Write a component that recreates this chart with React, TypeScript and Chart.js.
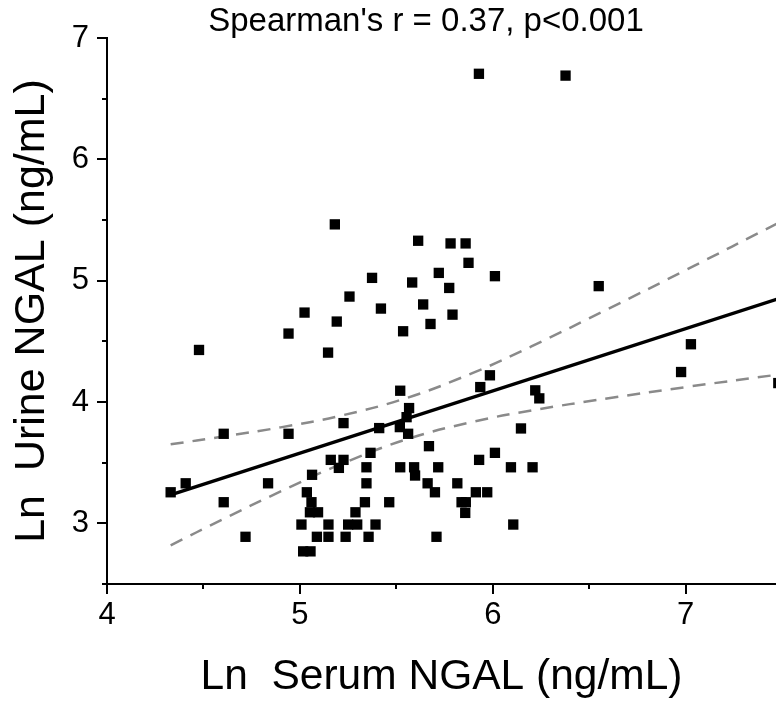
import React, { useEffect, useRef } from 'react';
import { Chart, registerables } from 'chart.js';

Chart.register(...registerables);

const titleText = "Spearman's r = 0.37, p<0.001";
const xTitle = 'Ln  Serum NGAL (ng/mL)';
const yTitle = 'Ln  Urine NGAL (ng/mL)';

const xTickLabels = ['4', '5', '6', '7'];
const yTickLabels = ['3', '4', '5', '6', '7'];

const serumX = [
  5.181, 5.613, 5.720, 5.374, 5.582, 5.257, 5.639, 5.420, 5.024, 5.191,
  5.677, 4.941, 5.535, 5.146, 4.477, 5.520, 5.781, 5.859, 5.874, 5.774,
  6.011, 5.791, 6.549, 7.027, 6.976, 5.985, 5.935, 6.220, 6.241, 7.480,
  5.566, 5.553, 5.518, 5.561, 5.411, 5.226, 4.941, 4.605, 4.408, 4.330,
  4.605, 4.718, 4.835, 5.063, 5.160, 5.226, 5.202, 5.366, 5.345, 5.345,
  5.337, 5.463, 5.520, 5.592, 5.597, 5.669, 5.662, 5.700, 5.717, 5.708,
  5.036, 5.060, 5.052, 5.094, 5.288, 5.008, 5.148, 5.250, 5.297, 5.392,
  5.088, 5.148, 5.237, 5.356, 5.017, 5.055, 6.146, 6.011, 5.929, 6.094,
  6.206, 5.816, 5.912, 5.971, 5.838, 5.860, 5.857, 6.106, 5.928, 6.377,
];
const urineY = [
  5.464, 5.329, 5.064, 5.023, 4.985, 4.869, 4.804, 4.770, 4.737, 4.663,
  4.643, 4.564, 4.583, 4.407, 4.429, 4.093, 5.307, 5.307, 5.147, 4.940,
  5.037, 4.720, 4.955, 4.476, 4.247, 4.220, 4.123, 4.096, 4.030, 4.156,
  3.950, 3.875, 3.793, 3.738, 3.785, 3.826, 3.738, 3.738, 3.330, 3.256,
  3.174, 2.889, 3.330, 3.400, 3.523, 3.523, 3.457, 3.581, 3.462, 3.330,
  3.174, 3.174, 3.462, 3.462, 3.394, 3.636, 3.330, 3.256, 3.462, 2.889,
  3.256, 3.174, 3.091, 3.091, 3.091, 2.990, 2.990, 2.990, 2.990, 2.990,
  2.889, 2.889, 2.889, 2.889, 2.769, 2.769, 3.782, 3.581, 3.523, 3.462,
  3.462, 3.330, 3.256, 3.256, 3.174, 3.174, 3.086, 2.990, 6.705, 6.690,
];

const fitX = [4.33, 7.48];
const fitY = [3.235, 4.851];

const bandX = [4.33, 4.6, 4.9, 5.2, 5.55, 5.9, 6.2, 6.6, 7.0, 7.48];
const upperY = [3.651, 3.715, 3.791, 3.883, 4.031, 4.242, 4.458, 4.769, 5.087, 5.476];
const lowerY = [2.819, 3.033, 3.263, 3.479, 3.691, 3.838, 3.930, 4.031, 4.123, 4.226];

const FONT = '"Liberation Sans", Arial, Helvetica, sans-serif';

const zip = (xs: number[], ys: number[]) => xs.map((x, i) => ({ x, y: ys[i] }));

const axisDecor = {
  id: 'axisDecor',
  afterDraw(chart: any) {
    const { ctx, chartArea, scales } = chart;
    const xs = scales.x;
    const ys = scales.y;
    ctx.save();
    ctx.strokeStyle = '#000';
    ctx.lineWidth = 2;
    xs.ticks.forEach((t: any) => {
      const px = Math.round(xs.getPixelForValue(t.value));
      const len = Number.isInteger(t.value) ? 10 : 5;
      ctx.beginPath();
      ctx.moveTo(px, chartArea.bottom);
      ctx.lineTo(px, chartArea.bottom + len);
      ctx.stroke();
    });
    ys.ticks.forEach((t: any) => {
      const py = Math.round(ys.getPixelForValue(t.value));
      const len = Number.isInteger(t.value) ? 10 : 5;
      ctx.beginPath();
      ctx.moveTo(chartArea.left, py);
      ctx.lineTo(chartArea.left - len, py);
      ctx.stroke();
    });
    ctx.fillStyle = '#000';
    ctx.font = `33px ${FONT}`;
    ctx.textAlign = 'center';
    ctx.textBaseline = 'alphabetic';
    ctx.fillText(titleText, 426, 31);
    ctx.restore();
  },
};

export default function App() {
  const ref = useRef<HTMLCanvasElement | null>(null);
  useEffect(() => {
    if (!ref.current) return;
    const chart = new Chart(ref.current, {
      type: 'scatter',
      data: {
        datasets: [
          {
            label: 'data',
            data: zip(serumX, urineY),
            pointStyle: 'rect',
            pointRadius: 7.3,
            pointHoverRadius: 7.3,
            backgroundColor: '#000',
            borderColor: '#000',
            borderWidth: 0,
            showLine: false,
          },
          {
            label: 'fit',
            data: zip(fitX, fitY),
            showLine: true,
            borderColor: '#000',
            borderWidth: 3.5,
            pointRadius: 0,
          },
          {
            label: 'upper',
            data: zip(bandX, upperY),
            showLine: true,
            borderColor: '#8a8a8a',
            borderWidth: 2.5,
            borderDash: [13, 9],
            pointRadius: 0,
            tension: 0.4,
          },
          {
            label: 'lower',
            data: zip(bandX, lowerY),
            showLine: true,
            borderColor: '#8a8a8a',
            borderWidth: 2.5,
            borderDash: [13, 9],
            pointRadius: 0,
            tension: 0.4,
          },
        ],
      },
      options: {
        responsive: false,
        animation: false,
        events: [],
        layout: { autoPadding: false, padding: { top: 38, right: 0, bottom: 0, left: 0 } },
        plugins: {
          legend: { display: false },
          title: { display: false },
          tooltip: { enabled: false },
        },
        scales: {
          x: {
            type: 'linear',
            min: 4,
            max: 7.468,
            afterFit: (s: any) => {
              s.height = 120;
              s.paddingLeft = 0;
              s.paddingRight = 0;
            },
            grid: { display: true, drawOnChartArea: false, drawTicks: false },
            border: { display: true, color: '#000', width: 2 },
            ticks: {
              stepSize: 0.5,
              includeBounds: false,
              autoSkip: false,
              maxRotation: 0,
              padding: 13,
              color: '#000',
              font: { family: FONT, size: 31 },
              callback: (v: any) => {
                const s = String(v);
                return xTickLabels.includes(s) ? s : '';
              },
            },
            title: {
              display: true,
              text: xTitle,
              color: '#000',
              font: { family: FONT, size: 42.5 },
              padding: { top: 0, bottom: 1 },
            },
          },
          y: {
            type: 'linear',
            min: 2.5,
            max: 7,
            afterFit: (s: any) => {
              s.width = 107;
              s.paddingTop = 0;
              s.paddingBottom = 0;
            },
            grid: { display: true, drawOnChartArea: false, drawTicks: false },
            border: { display: true, color: '#000', width: 2 },
            ticks: {
              stepSize: 0.5,
              includeBounds: false,
              autoSkip: false,
              padding: 18,
              color: '#000',
              font: { family: FONT, size: 31 },
              callback: (v: any) => {
                const s = String(v);
                return yTickLabels.includes(s) ? s : '';
              },
            },
            title: {
              display: true,
              text: yTitle,
              color: '#000',
              font: { family: FONT, size: 43 },
              padding: { top: 6, bottom: 0 },
            },
          },
        },
      },
      plugins: [axisDecor],
    } as any);
    return () => chart.destroy();
  }, []);
  return (
    <div style={{ position: 'absolute', left: 0, top: 0, width: 776, height: 704, background: '#fff' }}>
      <canvas ref={ref} width={776} height={704} style={{ display: 'block' }} />
    </div>
  );
}
